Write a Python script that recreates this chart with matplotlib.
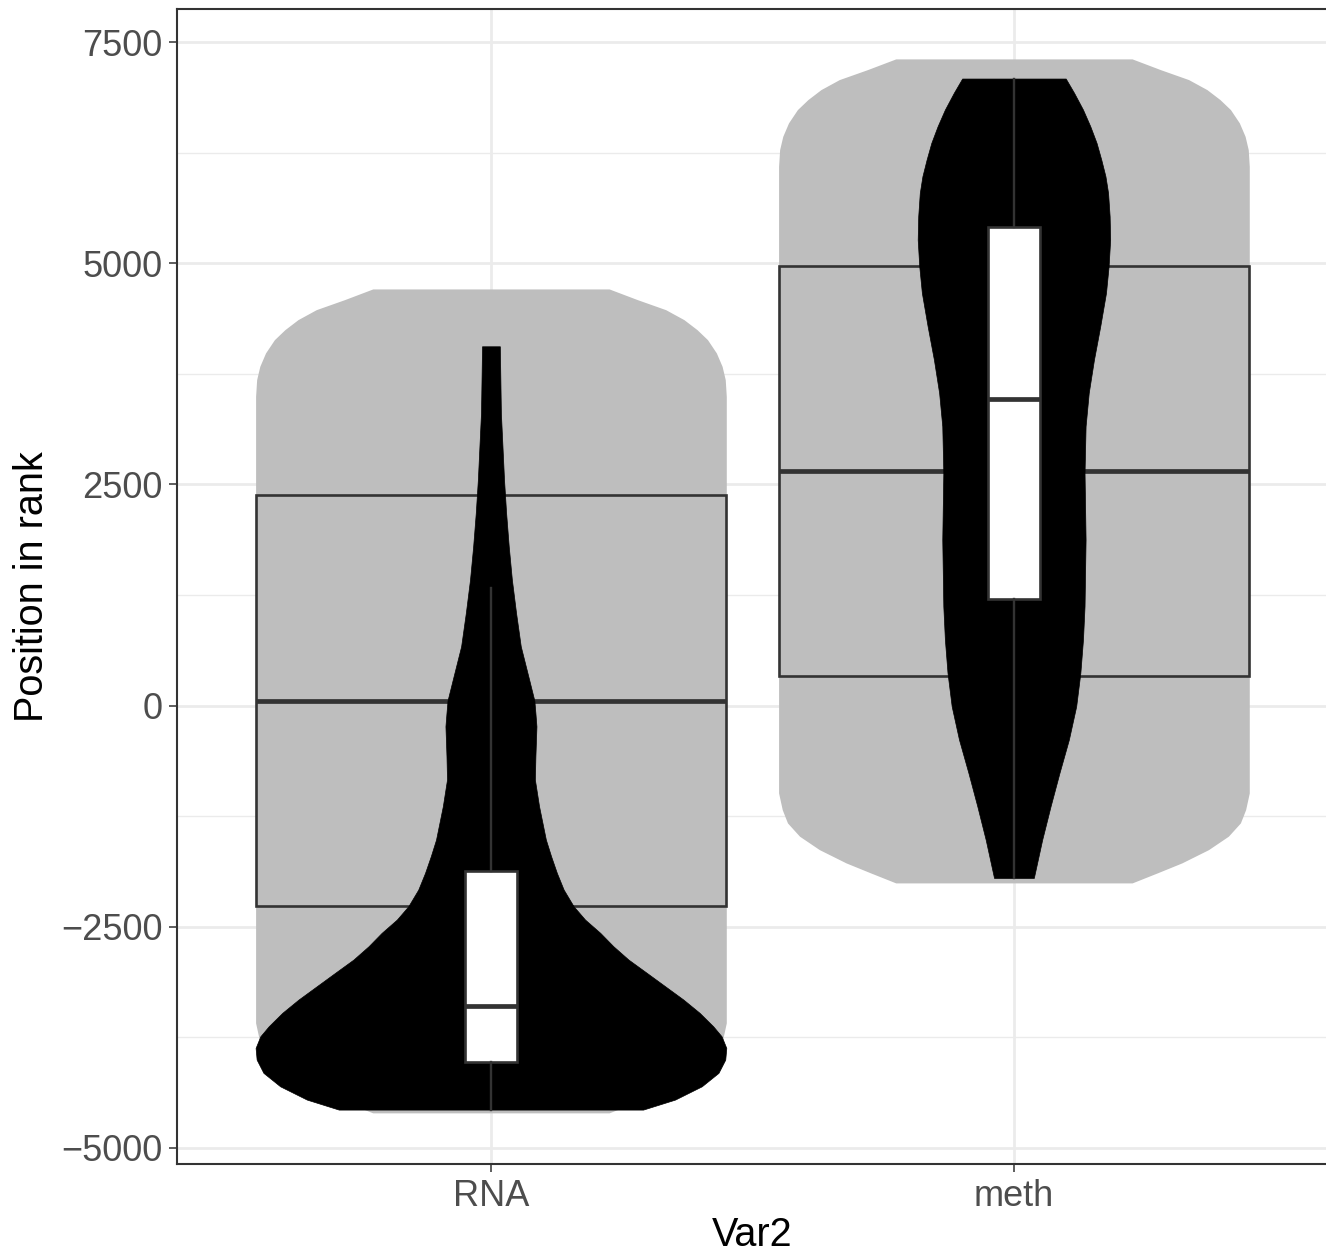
"""Violin + boxplot comparison of rank positions for RNA and methylation."""

import matplotlib

matplotlib.use("Agg")
import matplotlib.pyplot as plt
import numpy as np

categories = ["RNA", "meth"]

# Wide grey violins behind everything: rank position and half-width
# (in category units), bottom to top.
grey_rna_y = [-4603, -4490, -4377, -4227, -4075, -3925, -3775, -3586,
              3495, 3684, 3834, 3986, 4136, 4249, 4362, 4475, 4588, 4709]
grey_meth_y = [-2004, -1891, -1778, -1628, -1476, -1326, -1176, -987,
               6095, 6284, 6434, 6586, 6736, 6849, 6962, 7075, 7188, 7309]
grey_halfwidth = [0.226, 0.274, 0.321, 0.372, 0.410, 0.433, 0.443, 0.450,
                  0.450, 0.448, 0.442, 0.431, 0.414, 0.394, 0.369, 0.334,
                  0.280, 0.226]

# Grey boxplots (no whiskers shown).
grey_q1 = [-2268, 331]
grey_median = [49, 2648]
grey_q3 = [2377, 4968]

# Black violins.
black_rna_y = [-4566, -4453, -4303, -4151, -4001, -3869, -3738, -3625, -3473,
               -3323, -3172, -3021, -2871, -2720, -2569, -2419, -2268, -2080,
               -1891, -1703, -1515, -1138, -836, -573, -234, -83, 57, 294,
               670, 1048, 1424, 1800, 2178, 2554, 2931, 3308, 3684, 4061]
black_rna_w = [0.291, 0.352, 0.403, 0.435, 0.448, 0.450, 0.441, 0.425, 0.399,
               0.368, 0.333, 0.298, 0.263, 0.234, 0.209, 0.180, 0.158, 0.139,
               0.126, 0.115, 0.105, 0.092, 0.084, 0.085, 0.087, 0.085, 0.083,
               0.073, 0.057, 0.048, 0.040, 0.034, 0.029, 0.025, 0.022, 0.019,
               0.018, 0.017]
black_meth_y = [-1948, -1515, -1138, -761, -384, -8, 370, 746, 1122, 1876,
                2630, 3157, 3534, 3910, 4287, 4664, 4965, 5266, 5530, 5794,
                5982, 6170, 6359, 6547, 6736, 6925, 7087]
black_meth_w = [0.038, 0.054, 0.070, 0.087, 0.105, 0.119, 0.127, 0.132, 0.135,
                0.137, 0.135, 0.137, 0.143, 0.153, 0.165, 0.176, 0.181, 0.184,
                0.183, 0.180, 0.175, 0.167, 0.158, 0.146, 0.132, 0.115, 0.099]

# Narrow white boxplots.
white_q1 = [-4031, 1209]
white_median = [-3391, 3470]
white_q3 = [-1873, 5406]
white_low = [-4566, -1948]
white_high = [1330, 7087]

GREY = "#BEBEBE"
DARK = "#333333"

plt.rcParams["font.family"] = ["Liberation Sans", "DejaVu Sans"]

fig = plt.figure(figsize=(13.26, 12.55), dpi=100)
ax = fig.add_axes([0.1336, 0.07251, 0.8677, 0.92032])

positions = np.arange(1, len(categories) + 1)

# grey violins
for pos, ys in zip(positions, [grey_rna_y, grey_meth_y]):
    w = np.array(grey_halfwidth)
    ax.fill_betweenx(ys, pos - w, pos + w, color=GREY, linewidth=0, zorder=1)

# grey boxes
grey_stats = [
    dict(med=m, q1=a, q3=b, whislo=a, whishi=b, fliers=[])
    for a, m, b in zip(grey_q1, grey_median, grey_q3)
]
ax.bxp(grey_stats, positions=positions, widths=0.9, patch_artist=True,
       showcaps=False, showfliers=False,
       boxprops=dict(facecolor=GREY, edgecolor=DARK, linewidth=1.9),
       medianprops=dict(color=DARK, linewidth=3.4),
       whiskerprops=dict(linewidth=0), zorder=2)

# black violins
for pos, ys, ws in zip(positions, [black_rna_y, black_meth_y],
                       [black_rna_w, black_meth_w]):
    w = np.array(ws)
    ax.fill_betweenx(ys, pos - w, pos + w, color="black", linewidth=0.5,
                     edgecolor="black", zorder=3)

# white boxes with whiskers
white_stats = [
    dict(med=m, q1=a, q3=b, whislo=lo, whishi=hi, fliers=[])
    for a, m, b, lo, hi in zip(white_q1, white_median, white_q3,
                               white_low, white_high)
]
ax.bxp(white_stats, positions=positions, widths=0.1, patch_artist=True,
       showcaps=False, showfliers=False,
       boxprops=dict(facecolor="white", edgecolor=DARK, linewidth=1.9),
       medianprops=dict(color=DARK, linewidth=3.4),
       whiskerprops=dict(color=DARK, linewidth=1.7), zorder=4)

ax.set_xlim(0.4, 2.6)
ax.set_ylim(-5181, 7873)
ax.set_xticks(positions)
ax.set_xticklabels(categories)
ax.set_yticks([-5000, -2500, 0, 2500, 5000, 7500])
ax.set_yticks([-3750, -1250, 1250, 3750, 6250], minor=True)

ax.set_axisbelow(True)
ax.grid(which="major", color="#EBEBEB", linewidth=2.0)
ax.grid(which="minor", axis="y", color="#EBEBEB", linewidth=1.0)

for spine in ax.spines.values():
    spine.set_color(DARK)
    spine.set_linewidth(1.5)

ax.tick_params(which="major", length=5.5, width=1.1, color=DARK,
               labelcolor="#4D4D4D", labelsize=26, pad=5)
ax.tick_params(which="minor", length=0)

ax.set_xlabel("Var2", fontsize=28.5, va="baseline")
ax.set_ylabel("Position in rank", fontsize=28.5, va="baseline")
ax.xaxis.set_label_coords(0.5, -0.0712)
ax.yaxis.set_label_coords(-0.1168, 0.5)

fig.savefig("out.png", dpi=100)
